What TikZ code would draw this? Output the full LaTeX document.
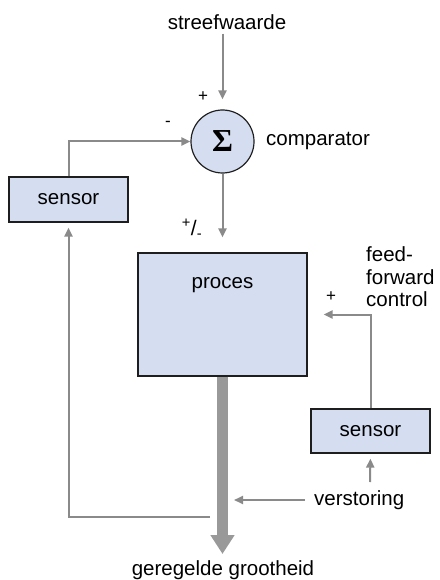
\documentclass[tikz,border=0pt]{standalone}
\usepackage{fontspec}
\setmainfont{Liberation Sans}
\newfontfamily\sigfont{Liberation Serif}
\usetikzlibrary{arrows.meta}
\definecolor{boxfill}{RGB}{213,221,240}
\definecolor{linegray}{RGB}{138,138,138}
\definecolor{thickgray}{RGB}{153,153,153}
\definecolor{bordercol}{RGB}{30,30,30}
\begin{document}
\begin{tikzpicture}[x=1pt,y=-1pt,
  every node/.style={font=\fontsize{20.5}{24}\selectfont},
  txt/.style={inner sep=0pt},
  blockbox/.style={draw=bordercol, line width=1.2pt, fill=boxfill, inner sep=0pt},
  conn/.style={draw=linegray, line width=2pt, -{Triangle[length=9pt,width=8pt]}},
  plainline/.style={draw=linegray, line width=2pt}]
\useasboundingbox (0,0) rectangle (439,580);
% nodes
\node[txt] (sw) at (227,22) {streefwaarde};
\node[blockbox, circle, minimum size=63pt] (cmp) at (222.5,141.5) {\sigfont\bfseries\fontsize{32}{32}\selectfont Σ};
\node[txt, anchor=west] (cmplbl) at (266,141) {comparator};
\node[txt, font=\fontsize{17}{17}\selectfont] (plus1) at (203,97) {+};
\node[txt, font=\fontsize{17}{17}\selectfont] (minus1) at (168,124) {-};
\node[blockbox, minimum width=119pt, minimum height=45pt] (s1) at (68.5,199.5) {};
\node[txt] (s1t) at (68.5,199.5) {sensor};
\node[txt, font=\fontsize{21}{21}\selectfont] (pm) at (192,229) {\textsuperscript{+}/\textsubscript{-}};
\node[blockbox, minimum width=169pt, minimum height=123pt] (pr) at (222.5,314.5) {};
\node[txt] (prt) at (222.5,285) {proces};
\node[txt, anchor=west, align=left, font=\fontsize{20.5}{22.5}\selectfont] (ff) at (366,277) {feed-\\forward\\control};
\node[txt, font=\fontsize{17}{17}\selectfont] (plus2) at (331,297) {+};
\node[blockbox, minimum width=119pt, minimum height=44pt] (s2) at (370.5,431) {};
\node[txt] (s2t) at (370.5,431) {sensor};
\node[txt, anchor=west] (vs) at (314,500) {verstoring};
\node[txt] (gg) at (223,570) {geregelde grootheid};
\coordinate (ggtip) at (222.5,554);
\coordinate (loopstart) at (210,517);
\coordinate (vsstart) at (305,500);
\coordinate (vstip) at (234,500);
\coordinate (vsup) at (370,482);
% connectors
\draw[conn, shorten <=4pt, shorten >=10pt] (sw.south -| cmp.north) -- (cmp.north);
\draw[conn] (s1.north) |- (cmp.west);
\draw[conn, shorten >=15pt] (cmp.south) -- (pr.north);
\draw[line width=11pt, draw=thickgray, -{Triangle[length=19pt,width=23pt]}, thickgray] (pr.south) -- (ggtip);
\draw[conn, shorten >=5pt] (loopstart) -| (s1.south);
\draw[conn] (vsstart) -- (vstip);
\draw[conn, shorten >=5pt] (vsup) -- (s2.south);
\draw[conn, shorten >=16pt] (s2.north) |- (pr.east);
\end{tikzpicture}
\end{document}
